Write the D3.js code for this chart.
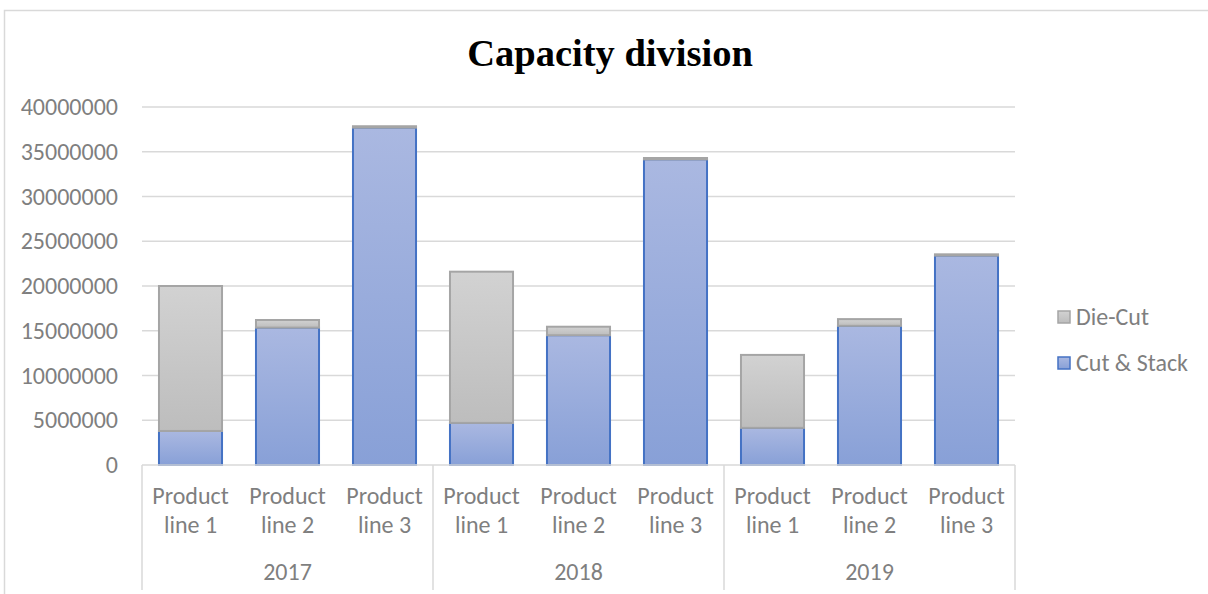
<!DOCTYPE html>
<html>
<head>
<meta charset="utf-8">
<script src="https://cdn.jsdelivr.net/npm/d3@7"></script>
<style>
  html, body { margin: 0; padding: 0; background: #fff; }
  svg { display: block; }
</style>
</head>
<body>
<svg id="chart" width="1208" height="594"></svg>
<script>
// Capacity per product line, split by process
const years = ["2017", "2018", "2019"];
const productLines = ["Product line 1", "Product line 2", "Product line 3"];
const cutStack = [3800000, 15350000, 37700000, 4700000, 14500000, 34150000, 4150000, 15550000, 23400000];
const dieCut = [16200000, 850000, 150000, 16900000, 950000, 150000, 8150000, 750000, 140000];
const yTicks = [0, 5000000, 10000000, 15000000, 20000000, 25000000, 30000000, 35000000, 40000000];
const seriesNames = ["Cut & Stack", "Die-Cut"];

const svg = d3.select("#chart");
const W = 1208, H = 594;
const plot = { left: 142, right: 1015, top: 107, bottom: 465 };
const font = "Calibri, Carlito, 'Open Sans', 'Noto Sans', sans-serif";
const fontSize = "24px";
const labelColor = "#7f7f7f";

// Chart frame
svg.append("rect")
  .attr("x", 4.5).attr("y", 10.5)
  .attr("width", W + 20).attr("height", H + 20)
  .attr("fill", "#fff").attr("stroke", "#d9d9d9").attr("stroke-width", 1.5);

// Gradients
const defs = svg.append("defs");
function grad(id, top, bottom) {
  const g = defs.append("linearGradient").attr("id", id)
    .attr("x1", 0).attr("y1", 0).attr("x2", 0).attr("y2", 1);
  g.append("stop").attr("offset", "0%").attr("stop-color", top);
  g.append("stop").attr("offset", "100%").attr("stop-color", bottom);
}
grad("gBlue", "#aab8e1", "#88a0d7");
grad("gGray", "#d2d2d2", "#bdbdbd");

// Build rows
const rows = [];
years.forEach((yr, i) => productLines.forEach((pl, j) => {
  const k = i * productLines.length + j;
  rows.push({ key: yr + "|" + pl, year: yr, line: pl, cs: cutStack[k], dc: dieCut[k] });
}));

const x = d3.scaleBand().domain(rows.map(d => d.key))
  .range([plot.left, plot.right]).paddingInner(0.35).paddingOuter(0.175);
const xYear = d3.scaleBand().domain(years).range([plot.left, plot.right]).padding(0);
const y = d3.scaleLinear().domain([0, 40000000]).range([plot.bottom, plot.top]);

// Gridlines
svg.append("g").selectAll("line").data(yTicks.filter(t => t > 0)).join("line")
  .attr("x1", plot.left).attr("x2", plot.right)
  .attr("y1", d => y(d)).attr("y2", d => y(d))
  .attr("stroke", "#d9d9d9").attr("stroke-width", 1.5);

// Y axis labels
const yAxis = svg.append("g").attr("transform", `translate(${plot.left},0)`)
  .call(d3.axisLeft(y).tickValues(yTicks).tickFormat(d3.format("d")).tickSize(0).tickPadding(24));
yAxis.select(".domain").remove();
yAxis.selectAll("text").attr("fill", labelColor).style("font-family", font).style("font-size", fontSize);

// Stacked bars
const stack = d3.stack().keys(["cs", "dc"]);
const layers = stack(rows);
const fills = ["url(#gBlue)", "url(#gGray)"];
const strokes = ["#4472c4", "#a5a5a5"];

layers.forEach((layer, li) => {
  svg.append("g").selectAll("rect").data(layer).join("rect")
    .attr("x", d => x(d.data.key))
    .attr("width", x.bandwidth())
    .attr("y", d => y(d[1]))
    .attr("height", d => y(d[0]) - y(d[1]))
    .attr("fill", fills[li])
    .attr("stroke", strokes[li])
    .attr("stroke-width", 2);
});

// Category axis line
svg.append("line")
  .attr("x1", plot.left).attr("x2", plot.right)
  .attr("y1", plot.bottom).attr("y2", plot.bottom)
  .attr("stroke", "#d9d9d9").attr("stroke-width", 1.5);

// Year group separators
const seps = years.map(yr => xYear(yr)).concat([plot.right]);
svg.append("g").selectAll("line").data(seps).join("line")
  .attr("x1", d => d).attr("x2", d => d)
  .attr("y1", plot.bottom).attr("y2", 590)
  .attr("stroke", "#d9d9d9").attr("stroke-width", 1.5);

// Product line labels (two lines)
const catLabels = svg.append("g").selectAll("text").data(rows).join("text")
  .attr("text-anchor", "middle")
  .attr("fill", labelColor)
  .style("font-family", font).style("font-size", fontSize);
catLabels.each(function(d) {
  const parts = d.line.split(" ");
  const cx = x(d.key) + x.bandwidth() / 2;
  const t = d3.select(this);
  t.append("tspan").attr("x", cx).attr("y", 504).text(parts[0]);
  t.append("tspan").attr("x", cx).attr("y", 533).text(parts.slice(1).join(" "));
});

// Year labels
svg.append("g").selectAll("text").data(years).join("text")
  .attr("x", d => xYear(d) + xYear.bandwidth() / 2)
  .attr("y", 580)
  .attr("text-anchor", "middle")
  .attr("fill", labelColor)
  .style("font-family", font).style("font-size", fontSize)
  .text(d => d);

// Title
svg.append("text")
  .attr("x", 610).attr("y", 66)
  .attr("text-anchor", "middle")
  .attr("fill", "#000")
  .style("font-family", "'Liberation Serif', 'Times New Roman', serif")
  .style("font-weight", "bold").style("font-size", "38.5px")
  .text("Capacity division");

// Legend
const legendItems = [
  { name: seriesNames[1], fill: "url(#gGray)", stroke: "#a5a5a5", y: 317 },
  { name: seriesNames[0], fill: "url(#gBlue)", stroke: "#4472c4", y: 363 }
];
const lg = svg.append("g").selectAll("g").data(legendItems).join("g");
lg.append("rect")
  .attr("x", 1058).attr("y", d => d.y - 6)
  .attr("width", 12).attr("height", 12)
  .attr("fill", d => d.fill).attr("stroke", d => d.stroke).attr("stroke-width", 1.5);
lg.append("text")
  .attr("x", 1076).attr("y", d => d.y + 7.5)
  .attr("fill", labelColor)
  .style("font-family", font).style("font-size", fontSize)
  .text(d => d.name);
</script>
</body>
</html>
